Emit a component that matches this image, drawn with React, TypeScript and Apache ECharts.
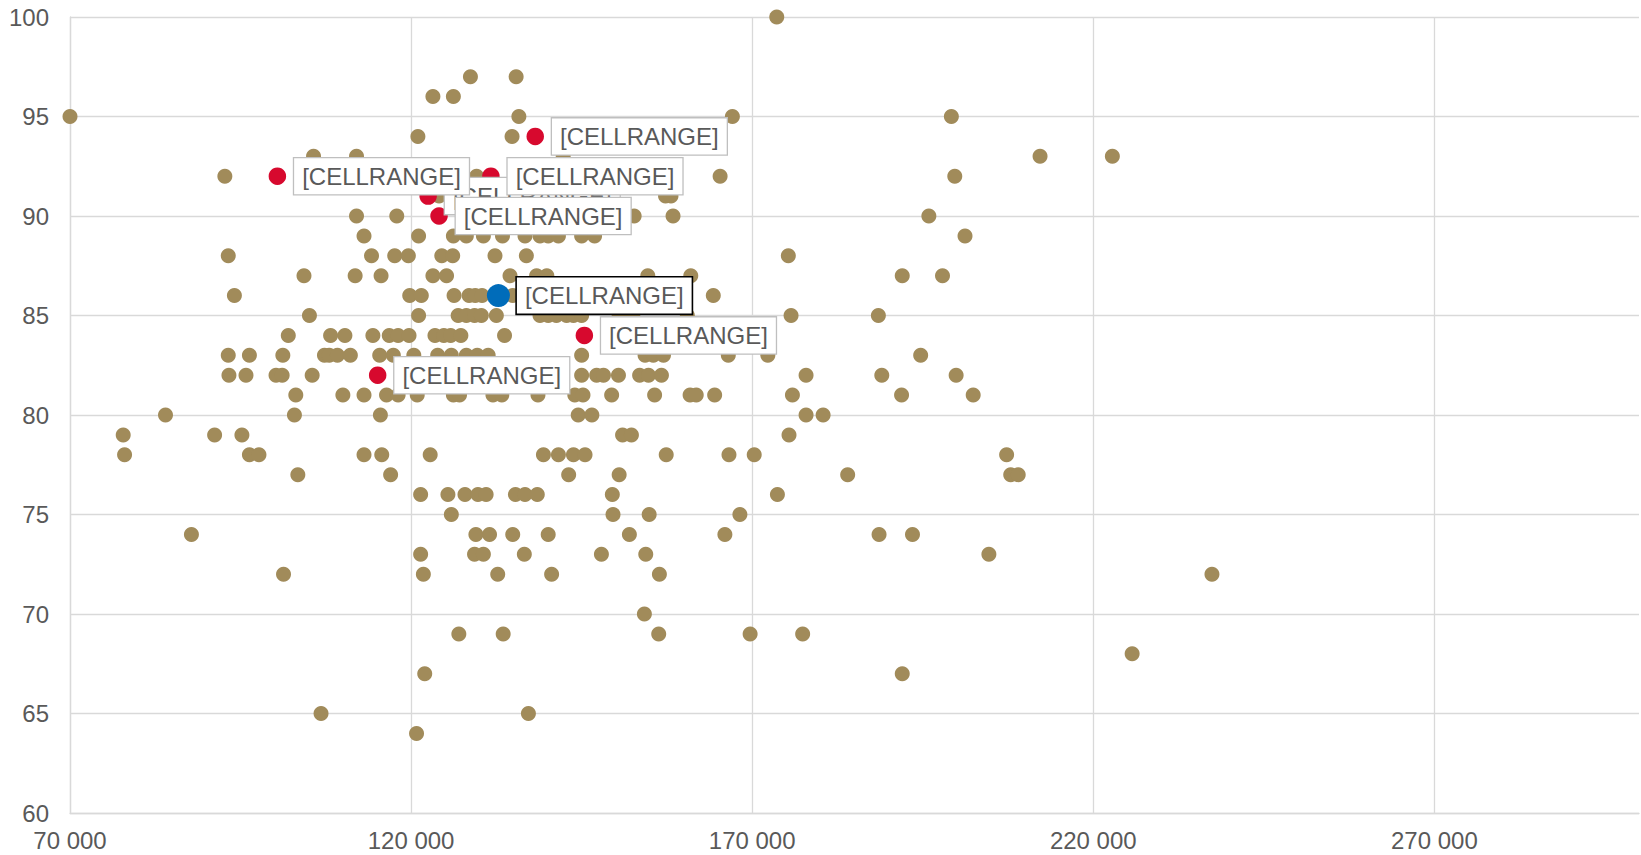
import React, { useEffect, useRef } from "react";
import * as echarts from "echarts";

// Score levels (y) and the incomes (x) of the points at each level
const scoreLevels = [100, 97, 96, 95, 94, 93, 92, 91, 90, 89, 88, 87, 86, 85, 84, 83, 82, 81, 80, 79, 78, 77, 76, 75, 74, 73, 72, 70, 69, 68, 67, 65, 64];
const incomesByScore = [
  [173600],
  [128700, 135400],
  [123200, 126200],
  [70000, 135800, 167100, 199200],
  [121000, 134800],
  [105700, 112000, 142300, 212200, 222800],
  [92700, 129600, 165300, 199700],
  [124100, 157300, 158100],
  [112000, 117900, 152700, 158400, 195900],
  [113100, 121100, 126200, 128100, 130600, 133400, 136700, 138900, 140100, 141600, 145000, 146900, 201200],
  [93200, 114200, 117600, 119600, 124500, 126100, 132300, 136900, 175300],
  [104300, 111800, 115600, 123200, 125200, 134500, 138400, 139900, 154700, 161000, 192000, 197900],
  [94100, 119800, 121500, 126300, 128500, 129400, 130400, 134900, 164300],
  [105100, 121100, 126900, 128100, 129300, 130300, 132500, 138900, 140100, 141300, 142800, 143800, 145000, 150500, 152500, 160500, 175700, 188500],
  [102000, 108200, 110300, 114400, 116800, 118100, 119700, 123500, 124800, 125800, 127300, 133700],
  [93200, 96300, 101200, 107300, 108000, 109200, 111100, 115400, 117400, 120400, 123900, 125900, 128100, 129700, 131300, 145000, 154300, 155500, 157000, 166500, 172300, 194700],
  [93300, 95800, 100200, 101100, 105500, 145000, 147200, 148200, 150400, 153500, 154800, 156700, 177900, 189000, 199900],
  [103100, 110000, 113100, 116400, 118100, 120900, 126200, 127100, 132000, 133300, 138600, 144000, 145200, 149400, 155700, 160900, 161800, 164500, 175900, 191900, 202400],
  [84000, 102900, 115500, 144500, 146500, 177900, 180400],
  [77800, 91200, 95200, 151000, 152300, 175400],
  [78000, 96300, 97700, 113100, 115700, 122800, 139400, 141600, 143800, 145500, 157400, 166600, 170300, 207300],
  [103400, 117000, 143100, 150500, 184000, 207900, 209000],
  [121400, 125400, 127900, 129800, 131000, 135300, 136700, 138500, 149500, 173700],
  [125900, 149600, 154900, 168200],
  [87800, 129500, 131500, 134900, 140100, 152000, 166000, 188600, 193500],
  [121400, 129300, 130600, 136600, 147900, 154400, 204700],
  [101300, 121800, 132700, 140600, 156400, 237400],
  [154200],
  [127000, 133500, 156300, 169700, 177400],
  [225700],
  [122000, 192000],
  [106800, 137200],
  [120800],
];

// Highlighted (red) points, the first one drawn underneath the others
const highlightX = [122500, 100400, 131700, 138200, 124100, 145400, 115100];
const highlightY = [91, 92, 92, 94, 90, 84, 82];

// Focus (blue) point
const focusX = [132800];
const focusY = [86];

const pointLabel = "[CELLRANGE]";

const FONT = "'Liberation Sans', Arial, Helvetica, sans-serif";
const TEXT = "#595959";
const GRID = "#D9D9D9";

function fmtThousands(v: number): string {
  return String(Math.round(v)).replace(/\B(?=(\d{3})+(?!\d))/g, " ");
}

const labelBase = {
  show: true,
  position: "right" as const,
  distance: 8,
  formatter: pointLabel,
  fontSize: 24,
  fontFamily: FONT,
  color: TEXT,
  lineHeight: 28,
  backgroundColor: "#FFFFFF",
  padding: [4, 8],
};

export default function App() {
  const ref = useRef<HTMLDivElement>(null);

  useEffect(() => {
    if (!ref.current) return;
    const chart = echarts.init(ref.current, undefined, { renderer: "svg" });

    const baseData: number[][] = [];
    scoreLevels.forEach((y, i) => {
      incomesByScore[i].forEach((x) => baseData.push([x, y]));
    });
    const redData = highlightX.map((x, i) => [x, highlightY[i]]);
    const blueData = focusX.map((x, i) => [x, focusY[i]]);

    chart.setOption({
      animation: false,
      backgroundColor: "#FFFFFF",
      textStyle: { fontFamily: FONT },
      grid: { left: 70, right: 2, top: 17, bottom: 42, containLabel: false },
      xAxis: {
        type: "value",
        min: 70000,
        max: 300000,
        interval: 50000,
        axisLine: { show: true, lineStyle: { color: GRID, width: 1.3 } },
        axisTick: { show: false },
        axisLabel: {
          color: TEXT,
          fontSize: 24,
          fontFamily: FONT,
          margin: 15,
          showMaxLabel: false,
          formatter: (v: number) => fmtThousands(v),
        },
        splitLine: { show: true, showMaxLine: false, lineStyle: { color: GRID, width: 1.3 } },
      },
      yAxis: {
        type: "value",
        min: 60,
        max: 100,
        interval: 5,
        axisLine: { show: true, lineStyle: { color: GRID, width: 1.3 } },
        axisTick: { show: false },
        axisLabel: { color: TEXT, fontSize: 24, fontFamily: FONT, margin: 21 },
        splitLine: { show: true, lineStyle: { color: GRID, width: 1.3 } },
      },
      series: [
        {
          type: "scatter",
          data: baseData,
          symbol: "circle",
          symbolSize: 15,
          itemStyle: { color: "#A18B5A", opacity: 1 },
          silent: true,
          z: 2,
        },
        {
          type: "scatter",
          data: redData,
          symbol: "circle",
          symbolSize: 17.5,
          itemStyle: { color: "#D7092E", opacity: 1 },
          label: { ...labelBase, borderColor: "#BFBFBF", borderWidth: 1.3 },
          silent: true,
          z: 3,
        },
        {
          type: "scatter",
          data: blueData,
          symbol: "circle",
          symbolSize: 23,
          itemStyle: { color: "#006CBA", opacity: 1 },
          label: { ...labelBase, distance: 7, borderColor: "#000000", borderWidth: 1.6 },
          silent: true,
          z: 4,
        },
      ],
    });

    return () => chart.dispose();
  }, []);

  return (
    <div
      ref={ref}
      style={{ position: "fixed", left: 0, top: 0, width: 1641, height: 855, background: "#FFFFFF" }}
    />
  );
}
